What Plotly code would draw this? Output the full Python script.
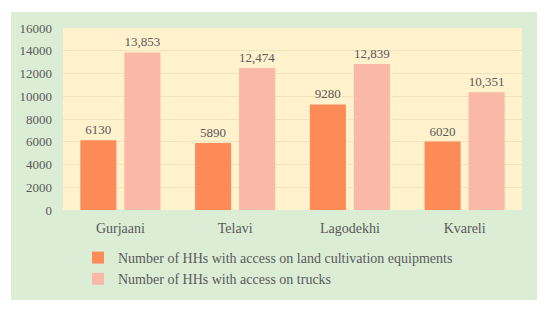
import plotly.graph_objects as go

districts = ["Gurjaani", "Telavi", "Lagodekhi", "Kvareli"]
equip = [6130, 5890, 9280, 6020]
trucks = [13853, 12474, 12839, 10351]
equip_labels = ["6130", "5890", "9280", "6020"]
truck_labels = ["13,853", "12,474", "12,839", "10,351"]
y_ticks = [0, 2000, 4000, 6000, 8000, 10000, 12000, 14000, 16000]

FONT = "Liberation Serif"
GRAY = "#595959"

fig = go.Figure()
fig.add_trace(go.Bar(
    x=districts, y=equip, name="Number of HHs with access on land cultivation equipments",
    marker=dict(color="#FD8B58", line=dict(width=0)),
    text=equip_labels, textposition="outside", cliponaxis=False,
    textfont=dict(family=FONT, size=13, color=GRAY),
))
fig.add_trace(go.Bar(
    x=districts, y=trucks, name="Number of HHs with access on trucks",
    marker=dict(color="#FAB8A6", line=dict(width=0)),
    text=truck_labels, textposition="outside", cliponaxis=False,
    textfont=dict(family=FONT, size=13, color=GRAY),
))

L, R, T, B = 63, 522, 28, 210
W, H = 550, 313
pw, ph = R - L, B - T

def px(x):
    return (x - L) / pw

def py(y):
    return (B - y) / ph

fig.update_layout(
    width=W, height=H,
    margin=dict(l=L, r=W - R, t=T, b=H - B, pad=0, autoexpand=False),
    paper_bgcolor="white",
    plot_bgcolor="rgba(0,0,0,0)",
    barmode="group", bargap=0.233, bargroupgap=0.18,
    font=dict(family=FONT, size=13, color=GRAY),
    showlegend=True,
    legend=dict(
        orientation="v", x=px(78), y=py(242), xanchor="left", yanchor="top",
        bgcolor="rgba(0,0,0,0)", font=dict(family=FONT, size=14, color=GRAY),
        itemwidth=30, tracegroupgap=0,
    ),
    shapes=[
        dict(type="rect", xref="paper", yref="paper", x0=px(11), x1=px(537),
             y0=py(300), y1=py(12), fillcolor="#DCEDD6", line=dict(width=0), layer="below"),
        dict(type="rect", xref="paper", yref="paper", x0=0, x1=1, y0=0, y1=1,
             fillcolor="#FFF2CC", line=dict(width=0), layer="below"),
    ],
    yaxis=dict(
        range=[0, 16000], tickvals=y_ticks, ticktext=[str(v) for v in y_ticks],
        showgrid=True, gridcolor="#F3E3BD", gridwidth=1, zeroline=False,
        showline=False, ticks="", ticklabelstandoff=10,
        tickfont=dict(family=FONT, size=13, color=GRAY),
    ),
    xaxis=dict(
        showline=False, ticks="", showgrid=False,
        ticklabelstandoff=8,
        tickfont=dict(family=FONT, size=14, color=GRAY),
    ),
)

fig.write_html("out.html", config={"displayModeBar": False},
               post_script="document.body.style.margin='0';")
